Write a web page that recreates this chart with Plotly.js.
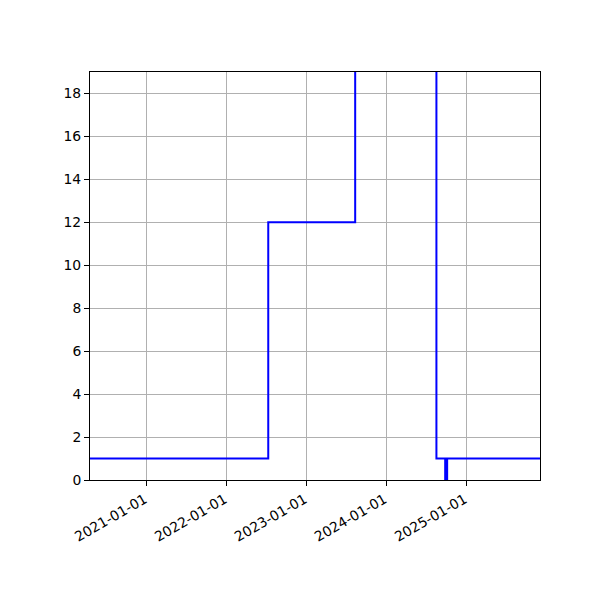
<!DOCTYPE html>
<html>
<head>
<meta charset="utf-8">
<script src="https://cdn.plot.ly/plotly-3.0.1.min.js"></script>
<style>
  body { margin: 0; background: #fff; }
  #chart { width: 600px; height: 600px; }
</style>
</head>
<body>
<div id="chart"></div>
<script>
// step dates and values (steps-post)
const dates = ['2020-04-17', '2022-07-10', '2023-08-11', '2024-08-16', '2024-09-25', '2024-10-04', '2025-12-02'];
const values = [1, 12, 30, 1, 0, 1, 1];
const tickDates = ['2021-01-01', '2022-01-01', '2023-01-01', '2024-01-01', '2025-01-01'];

const axisStyle = {
  showline: true,
  linecolor: '#000',
  linewidth: 1,
  mirror: true,
  ticks: 'outside',
  ticklen: 5,
  tickwidth: 1,
  tickcolor: '#000',
  showgrid: true,
  gridcolor: '#b0b0b0',
  gridwidth: 0.8,
  zeroline: false,
  tickfont: { family: 'DejaVu Sans', size: 13.9, color: '#000' }
};

Plotly.newPlot('chart', [{
  x: dates,
  y: values,
  type: 'scatter',
  mode: 'lines',
  line: { shape: 'hv', color: '#0000ff', width: 2 }
}], {
  width: 600,
  height: 600,
  margin: { l: 90, r: 60, t: 72, b: 120 },
  paper_bgcolor: '#fff',
  plot_bgcolor: '#fff',
  showlegend: false,
  xaxis: Object.assign({}, axisStyle, {
    type: 'date',
    range: ['2020-04-17', '2025-12-02'],
    tickvals: tickDates,
    ticktext: tickDates,
    tickangle: -30,
    ticklabelshift: -2
  }),
  yaxis: Object.assign({}, axisStyle, {
    range: [0, 19],
    dtick: 2,
    tick0: 0
  })
}, { displayModeBar: false });
</script>
</body>
</html>
